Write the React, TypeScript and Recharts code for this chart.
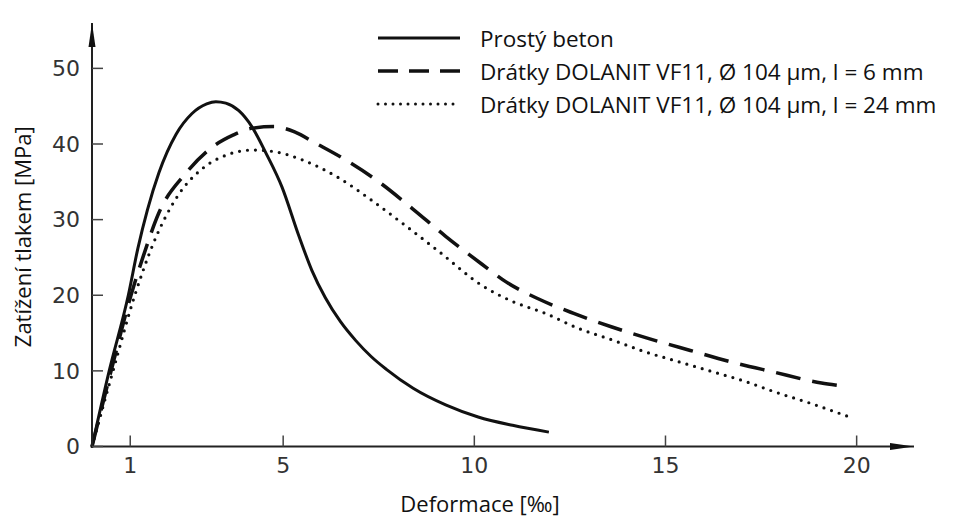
import { Label, Legend, Line, LineChart, XAxis, YAxis } from "recharts";

// strain [‰] and stress [MPa]
const plainStrain = [0, 0.45, 0.95, 1.2, 1.45, 1.75, 2.2, 2.61, 3.0, 3.24, 3.5, 3.84, 4.18, 4.55, 4.97, 5.4, 5.75, 6.1, 6.5, 6.9, 7.3, 7.7, 8.4, 9.25, 10.1, 11.0, 11.95];
const plainStress = [0, 10, 20, 26.2, 31.3, 36.2, 41.3, 44.0, 45.3, 45.6, 45.4, 44.4, 42.3, 38.8, 34.3, 28.0, 23.3, 19.7, 16.5, 14.0, 11.9, 10.2, 7.7, 5.5, 3.9, 2.8, 1.9];

const fiber6Strain = [0, 0.5, 1.02, 1.35, 1.75, 2.45, 3.15, 3.7, 4.2, 4.75, 5.3, 5.85, 6.63, 7.5, 8.37, 9.25, 10.2, 10.82, 11.64, 12.6, 13.6, 14.61, 15.65, 16.78, 17.78, 19.08, 19.48];
const fiber6Stress = [0, 10, 20, 25.3, 30.9, 36.1, 39.6, 41.2, 42.1, 42.3, 41.6, 40.1, 37.9, 35.0, 31.5, 27.8, 24.1, 21.8, 19.6, 17.6, 15.8, 14.2, 12.7, 11.1, 9.9, 8.4, 8.1];

const fiber24Strain = [0, 0.55, 1.12, 1.6, 2.25, 2.9, 3.55, 4.2, 4.75, 5.5, 6.46, 7.33, 8.2, 9.07, 10.2, 10.99, 11.86, 12.73, 13.6, 14.48, 15.35, 16.22, 17.09, 17.87, 18.8, 19.76];
const fiber24Stress = [0, 10, 20, 26.8, 33.2, 36.8, 38.6, 39.2, 39.0, 37.9, 35.5, 32.5, 29.2, 25.8, 21.3, 19.2, 17.6, 15.6, 14.1, 12.5, 11.2, 9.9, 8.6, 7.2, 5.7, 4.0];

const seriesNames = [
  "Prostý beton",
  "Drátky DOLANIT VF11, Ø 104 µm, l = 6 mm",
  "Drátky DOLANIT VF11, Ø 104 µm, l = 24 mm",
];

const xTicks = [1, 5, 10, 15, 20];
const yTicks = [0, 10, 20, 30, 40, 50];

const toPoints = (xs: number[], ys: number[]) => xs.map((x, i) => ({ x, y: ys[i] }));

const ink = "#111";
const textFont = "'Open Sans', sans-serif";
const tickFont = "'DejaVu Sans', sans-serif";

const lineStyles: Record<string, any> = {
  [seriesNames[0]]: { strokeWidth: 3 },
  [seriesNames[1]]: { strokeWidth: 3.5, strokeDasharray: "25 12" },
  [seriesNames[2]]: { strokeWidth: 3.2, strokeDasharray: "0 8", strokeLinecap: "round" },
};

const legendStyles: Record<string, any> = {
  [seriesNames[0]]: { strokeWidth: 3 },
  [seriesNames[1]]: { strokeWidth: 3.5, strokeDasharray: "20 11" },
  [seriesNames[2]]: { strokeWidth: 3, strokeDasharray: "0 7.5", strokeLinecap: "round" },
};

const LegendBox = ({ payload }: any) => {
  const items = [...(payload ?? [])].sort(
    (a: any, b: any) => seriesNames.indexOf(a.value) - seriesNames.indexOf(b.value)
  );
  return (
    <svg width={587} height={100}>
      {items.map((entry: any, i: number) => {
        const cy = 20 + i * 33;
        return (
          <g key={entry.value}>
            <line x1={8} x2={90} y1={cy} y2={cy} stroke={ink} {...legendStyles[entry.value]} />
            <text x={110} y={cy} dominantBaseline="central" fontFamily={textFont} fontSize={22.5} fill={ink}>
              {entry.value}
            </text>
          </g>
        );
      })}
    </svg>
  );
};

const XTitle = ({ viewBox }: any) => (
  <text
    x={viewBox.x + viewBox.width / 2 - 23}
    y={viewBox.y + 65}
    textAnchor="middle"
    fontFamily={textFont}
    fontSize={22}
    fill={ink}
  >
    Deformace [‰]
  </text>
);

const YTitle = ({ viewBox }: any) => {
  const cx = 22;
  const cy = viewBox.y + viewBox.height / 2 + 2;
  return (
    <text
      x={cx}
      y={cy}
      transform={`rotate(-90, ${cx}, ${cy})`}
      textAnchor="middle"
      dominantBaseline="central"
      fontFamily={textFont}
      fontSize={22}
      fill={ink}
    >
      Zatížení tlakem [MPa]
    </text>
  );
};

export default function App() {
  return (
    <div style={{ position: "absolute", left: 0, top: 0, width: 957, height: 518, background: "#fff" }}>
      <LineChart width={957} height={518} margin={{ top: 23, right: 43, bottom: 21.5, left: 0 }}>
        <defs>
          <marker
            id="axisArrow"
            viewBox="0 0 24 10"
            markerWidth={24}
            markerHeight={10}
            refX={24}
            refY={5}
            orient="auto-start-reverse"
            markerUnits="userSpaceOnUse"
          >
            <path d="M0,1.5 L24,5 L0,8.5 Z" fill={ink} />
          </marker>
        </defs>
        <XAxis
          type="number"
          dataKey="x"
          domain={[0, 21.5]}
          ticks={xTicks}
          interval={0}
          height={50}
          tickSize={-11}
          tickMargin={22}
          axisLine={{ stroke: "#222", strokeWidth: 2, markerEnd: "url(#axisArrow)" }}
          tickLine={{ stroke: "#444", strokeWidth: 1.5 }}
          tick={{ fill: "#333", fontSize: 22, fontFamily: tickFont }}
        >
          <Label content={XTitle} />
        </XAxis>
        <YAxis
          type="number"
          dataKey="y"
          domain={[0, 56]}
          ticks={yTicks}
          interval={0}
          width={92}
          tickSize={-11}
          tickMargin={23}
          axisLine={{ stroke: "#222", strokeWidth: 2, markerStart: "url(#axisArrow)" }}
          tickLine={{ stroke: "#444", strokeWidth: 1.5 }}
          tick={{ fill: "#333", fontSize: 22, fontFamily: tickFont }}
        >
          <Label content={YTitle} />
        </YAxis>
        <Legend
          layout="vertical"
          align="center"
          verticalAlign="middle"
          content={LegendBox}
          wrapperStyle={{ position: "absolute", left: 370, top: 18, width: 587, height: 100 }}
        />
        <Line
          name={seriesNames[0]}
          data={toPoints(plainStrain, plainStress)}
          dataKey="y"
          type="monotone"
          stroke={ink}
          {...lineStyles[seriesNames[0]]}
          dot={false}
          activeDot={false}
          isAnimationActive={false}
        />
        <Line
          name={seriesNames[1]}
          data={toPoints(fiber6Strain, fiber6Stress)}
          dataKey="y"
          type="monotone"
          stroke={ink}
          {...lineStyles[seriesNames[1]]}
          dot={false}
          activeDot={false}
          isAnimationActive={false}
        />
        <Line
          name={seriesNames[2]}
          data={toPoints(fiber24Strain, fiber24Stress)}
          dataKey="y"
          type="monotone"
          stroke={ink}
          {...lineStyles[seriesNames[2]]}
          dot={false}
          activeDot={false}
          isAnimationActive={false}
        />
      </LineChart>
    </div>
  );
}
